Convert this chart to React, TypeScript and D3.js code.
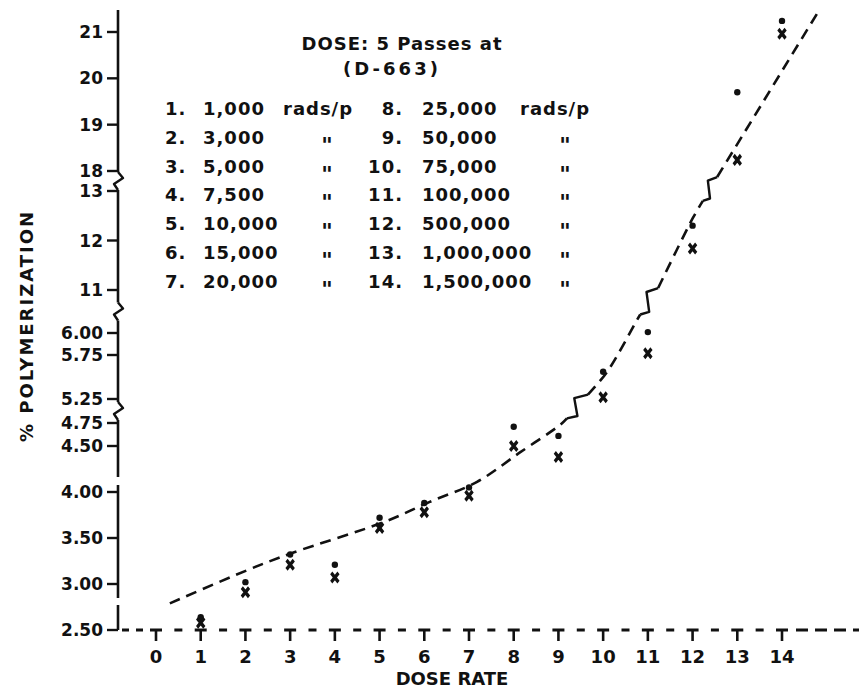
import React from "react";
import * as d3 from "d3";

const W = 859;
const H = 698;
const ink = "#111";

// dose rate categories on the x axis
const xTicks = [0, 1, 2, 3, 4, 5, 6, 7, 8, 9, 10, 11, 12, 13, 14];
const doseRate = [1, 2, 3, 4, 5, 6, 7, 8, 9, 10, 11, 12, 13, 14];
const radsPerPass = [
  "1,000", "3,000", "5,000", "7,500", "10,000", "15,000", "20,000",
  "25,000", "50,000", "75,000", "100,000", "500,000", "1,000,000", "1,500,000",
];

// two readings per dose rate (% polymerization)
const dotPct = [2.64, 3.02, 3.32, 3.21, 3.72, 3.88, 4.05, 4.71, 4.61, 5.56, 6.01, 12.3, 19.7, 21.24];
const crossPct = [2.58, 2.91, 3.21, 3.07, 3.61, 3.78, 3.96, 4.5, 4.38, 5.27, 5.77, 11.84, 18.24, 20.96];

// broken y axis, one tick list per section
const yTicksA = [2.5, 3.0, 3.5, 4.0, 4.5, 4.75];
const yTicksB = [5.25, 5.75, 6.0];
const yTicksC = [11, 12, 13];
const yTicksD = [18, 19, 20, 21];

// dashed fitted curve, one piece per axis section [dose, %]
const fitA = [[0.31, 2.79], [2.04, 3.15], [3.06, 3.34], [5.08, 3.67], [6.11, 3.89], [7.18, 4.11], [8.14, 4.43], [9.04, 4.73], [9.19, 4.8]];
const fitB = [[9.66, 5.3], [10.09, 5.56], [10.76, 6.15], [10.83, 6.21]];
const fitC = [[11.23, 11.04], [12.01, 12.46], [12.23, 12.8]];
const fitD = [[12.55, 17.87], [14.78, 21.39]];

const axisX = 118;
const baseY = 630;

const sections = [
  { ticks: yTicksA, range: [630, 423], fmt: d3.format(".2f"), fit: fitA },
  { ticks: yTicksB, range: [399, 333], fmt: d3.format(".2f"), fit: fitB },
  { ticks: yTicksC, range: [290, 191], fmt: d3.format("d"), fit: fitC },
  { ticks: yTicksD, range: [171, 32], fmt: d3.format("d"), fit: fitD },
].map((s) => ({
  ...s,
  scale: d3.scaleLinear().domain(d3.extent(s.ticks) as [number, number]).range(s.range),
}));

const x = d3.scaleLinear().domain([0, 14]).range([156, 782]);

function yOf(v: number) {
  let best = sections[0];
  let bestD = Infinity;
  for (const s of sections) {
    const [a, b] = s.scale.domain();
    const d = v < a ? a - v : v > b ? v - b : 0;
    if (d < bestD) {
      bestD = d;
      best = s;
    }
  }
  return best.scale(v);
}

const zigAxis = (m: number) =>
  `M${axisX},${m - 9} L${axisX + 5},${m - 3} L${axisX - 4},${m + 3} L${axisX},${m + 9}`;

const crossPath = d3.symbol().type(d3.symbolX).size(44)();

export default function App() {
  const step = x(1) - x(0);
  const gap = (step - 20) / 2;

  // axis pieces
  const zigMids = [
    (sections[0].range[1] + sections[1].range[0]) / 2,
    (sections[1].range[1] + sections[2].range[0]) / 2,
    (sections[2].range[1] + sections[3].range[0]) / 2,
  ];
  const axisPieces: [number, number][] = [
    [10, zigMids[2] - 9],
    [zigMids[2] + 9, zigMids[1] - 9],
    [zigMids[1] + 9, zigMids[0] - 9],
    [zigMids[0] + 9, 477],
    [485, 598],
    [605, baseY],
  ];

  const fitLine = (s: (typeof sections)[number]) =>
    d3
      .line<number[]>()
      .x((d) => x(d[0]))
      .y((d) => s.scale(d[1]))
      .curve(d3.curveCatmullRom)(s.fit);

  const fitZigs = sections.slice(0, 3).map((s, i) => {
    const a = s.fit[s.fit.length - 1];
    const b = sections[i + 1].fit[0];
    const p0 = [x(a[0]), s.scale(a[1])];
    const p1 = [x(b[0]), sections[i + 1].scale(b[1])];
    const dx = p1[0] - p0[0];
    const dy = p1[1] - p0[1];
    return `M${p0[0]},${p0[1]} L${p0[0] + 0.5 * dx},${p0[1] + 0.1 * dy} L${p0[0] + 0.35 * dx},${p0[1] + 0.85 * dy} L${p1[0]},${p1[1]}`;
  });

  const legendRowY = (r: number) => 115 + r * 28.8;

  return (
    <svg
      width={W}
      height={H}
      style={{ position: "absolute", left: 0, top: 0, background: "#fff" }}
      fontFamily="'DejaVu Sans', sans-serif"
      fontWeight="bold"
      fill={ink}
    >
      {/* y axis */}
      {axisPieces.map(([a, b], i) => (
        <line key={"ax" + i} x1={axisX} x2={axisX} y1={a} y2={b} stroke={ink} strokeWidth={2.6} />
      ))}
      {zigMids.map((m, i) => (
        <path key={"zg" + i} d={zigAxis(m)} fill="none" stroke={ink} strokeWidth={2.4} strokeLinejoin="round" />
      ))}
      {sections.map((s, si) =>
        s.ticks.map((t) => (
          <g key={`t${si}-${t}`} transform={`translate(0,${s.scale(t)})`}>
            <line x1={107} x2={axisX} stroke={ink} strokeWidth={2.4} />
            <text x={103} dy="0.36em" textAnchor="end" fontSize={17}>
              {s.fmt(t)}
            </text>
          </g>
        ))
      )}
      <text
        transform="translate(27,326) rotate(-90)"
        textAnchor="middle"
        dy="0.36em"
        fontSize={18}
        letterSpacing={2}
      >
        % POLYMERIZATION
      </text>

      {/* x axis: dash-dot baseline with T ticks */}
      <line x1={axisX + 4} x2={x(0) - 8} y1={baseY} y2={baseY} stroke={ink} strokeWidth={3} strokeDasharray="7 7" />
      <line
        x1={x(0) - 6}
        x2={x(14) + 6}
        y1={baseY}
        y2={baseY}
        stroke={ink}
        strokeWidth={3}
        strokeDasharray={`12 ${gap} 8 ${gap}`}
      />
      <line x1={x(14) + 14} x2={W} y1={baseY} y2={baseY} stroke={ink} strokeWidth={3} strokeDasharray="12 7" />
      {xTicks.map((t) => (
        <g key={"x" + t} transform={`translate(${x(t)},${baseY})`}>
          <line y1={0} y2={11} stroke={ink} strokeWidth={2.6} />
          <text y={33} textAnchor="middle" fontSize={18}>
            {t}
          </text>
        </g>
      ))}
      <text x={452} y={685} textAnchor="middle" fontSize={18}>
        DOSE RATE
      </text>

      {/* fitted curve */}
      {sections.map((s, i) => (
        <path
          key={"fit" + i}
          d={fitLine(s) || ""}
          fill="none"
          stroke={ink}
          strokeWidth={2.6}
          strokeDasharray="11 7"
        />
      ))}
      {fitZigs.map((d, i) => (
        <path key={"fz" + i} d={d} fill="none" stroke={ink} strokeWidth={2.4} strokeLinejoin="round" />
      ))}

      {/* readings */}
      {doseRate.map((d, i) => (
        <g key={"p" + d}>
          <circle cx={x(d)} cy={yOf(dotPct[i])} r={3.2} fill={ink} />
          <path
            d={crossPath || ""}
            transform={`translate(${x(d)},${yOf(crossPct[i])}) scale(0.9,1.15)`}
            fill="none"
            stroke={ink}
            strokeWidth={3.4}
          />
        </g>
      ))}

      {/* legend */}
      <text x={402} y={50} textAnchor="middle" fontSize={18} letterSpacing={1}>
        DOSE: 5 Passes at
      </text>
      <text x={392} y={75} textAnchor="middle" fontSize={18} letterSpacing={3}>
        (D-663)
      </text>
      {radsPerPass.map((r, i) => {
        const col = i < 7 ? 0 : 1;
        const row = i % 7;
        const y = legendRowY(row);
        return (
          <g key={"lg" + i} fontSize={18} letterSpacing={1}>
            <text x={col === 0 ? 165 : 403} y={y} textAnchor={col === 0 ? "start" : "end"}>
              {`${i + 1}.`}
            </text>
            <text x={col === 0 ? 203 : 422} y={y}>
              {r}
            </text>
            {row === 0 ? (
              <text x={col === 0 ? 283 : 520} y={y}>
                rads/p
              </text>
            ) : (
              <text x={col === 0 ? 327 : 565} y={y + 9} textAnchor="middle" fontSize={22} letterSpacing={0}>
                "
              </text>
            )}
          </g>
        );
      })}
    </svg>
  );
}
